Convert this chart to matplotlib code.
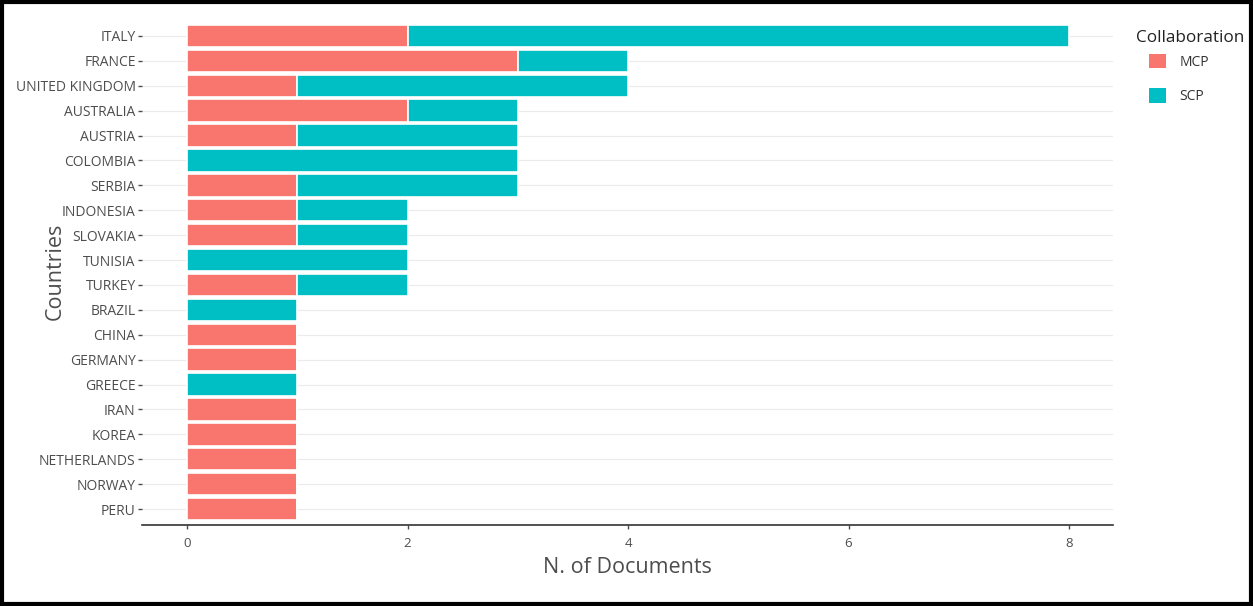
import matplotlib.pyplot as plt
from matplotlib.patches import Rectangle, Patch

countries = ["ITALY", "FRANCE", "UNITED KINGDOM", "AUSTRALIA", "AUSTRIA",
             "COLOMBIA", "SERBIA", "INDONESIA", "SLOVAKIA", "TUNISIA",
             "TURKEY", "BRAZIL", "CHINA", "GERMANY", "GREECE",
             "IRAN", "KOREA", "NETHERLANDS", "NORWAY", "PERU"]
mcp = [2, 3, 1, 2, 1, 0, 1, 1, 1, 0, 1, 0, 1, 1, 0, 1, 1, 1, 1, 1]
scp = [6, 1, 3, 1, 2, 3, 2, 1, 1, 2, 1, 1, 0, 0, 1, 0, 0, 0, 0, 0]
x_ticks = [0, 2, 4, 6, 8]

col_mcp = "#F8766D"
col_scp = "#00BFC4"
txt = "#4d4d4d"

plt.rcParams['font.family'] = ['Open Sans', 'DejaVu Sans']

fig = plt.figure(figsize=(12.53, 6.06), dpi=100)
ax = fig.add_axes([0.1133, 0.1337, 0.7750, 0.8366])

ypos = list(range(len(countries)))
ax.barh(ypos, mcp, height=0.9, color=col_mcp, edgecolor="white", linewidth=1.2, zorder=3)
ax.barh(ypos, scp, left=mcp, height=0.9, color=col_scp, edgecolor="white", linewidth=1.2, zorder=3)

ax.set_ylim(19.64, -0.72)
ax.set_xlim(-0.41, 8.4)
ax.set_yticks(ypos)
ax.set_yticklabels(countries, fontsize=10, color=txt)
ax.set_xticks(x_ticks)
ax.set_xticklabels([str(t) for t in x_ticks], fontsize=9.5, color=txt)
ax.tick_params(axis="y", length=3, width=1, color=txt, pad=1.5)
ax.tick_params(axis="x", length=3, width=1, color=txt, pad=6)

ax.grid(axis="y", color="#ebebeb", linewidth=0.8, zorder=0)
for s in ["top", "right", "left"]:
    ax.spines[s].set_visible(False)
ax.spines["bottom"].set_color("#333333")
ax.spines["bottom"].set_linewidth(1.2)

ax.set_xlabel("N. of Documents", fontsize=15.5, color=txt, labelpad=4.5)
ax.set_ylabel("Countries", fontsize=15.5, color=txt)
ax.yaxis.set_label_coords(-0.078, 0.5)

# legend: title drawn separately so the gap matches
fig.text(0.9065, 0.937, "Collaboration", fontsize=12.3, color="#222222", va="center", ha="left")
handles = [Patch(facecolor=col_mcp, label="MCP"), Patch(facecolor=col_scp, label="SCP")]
leg = fig.legend(handles=handles, loc="upper left",
                 bbox_to_anchor=(0.917, 0.911), frameon=False, fontsize=10,
                 handlelength=1.2, handleheight=1.2,
                 labelspacing=1.35, handletextpad=1.0, borderaxespad=0,
                 borderpad=0)
for t in leg.get_texts():
    t.set_color("#333333")

fig.add_artist(Rectangle((0.0015, 0.003), 0.997, 0.994, transform=fig.transFigure,
                         fill=False, edgecolor="black", linewidth=3))

fig.savefig("out.png", dpi=100)
